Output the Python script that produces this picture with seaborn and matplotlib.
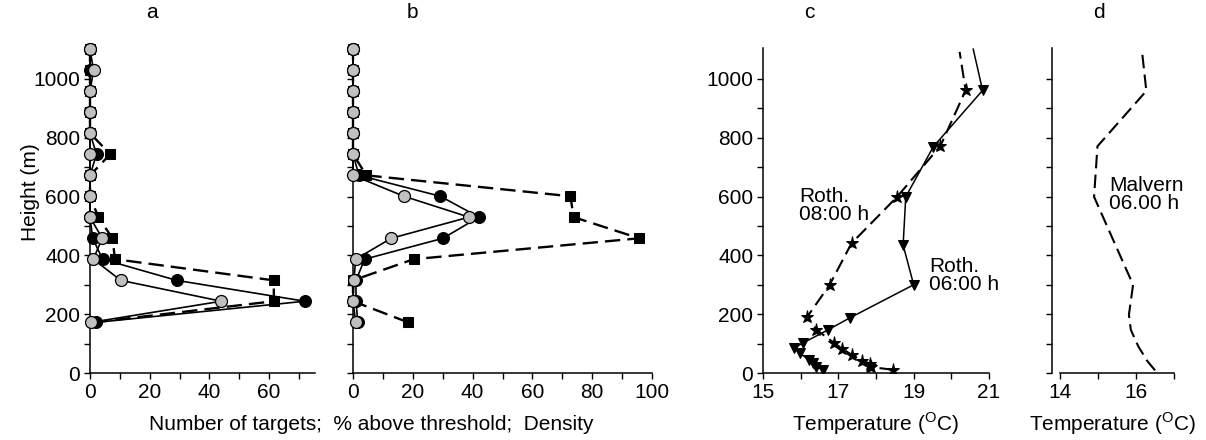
import matplotlib
matplotlib.use("Agg")
import matplotlib.pyplot as plt
import seaborn as sns
import numpy as np

# ---------------- data ----------------
heights = [172, 244, 315, 387, 458, 530, 601, 672, 744, 815, 886, 958, 1029, 1100]

a_black = [2.0, 72.0, 29.0, 4.2, 0.9, 0, 0, 0, 2.2, 0, 0, 0, 0, 0]
a_gray = [0.2, 44.0, 10.3, 1.1, 4.1, 0, 0, 0, 0, 0, 0, 0, 1.2, 0]
a_square = [1.0, 61.6, 61.6, 8.4, 7.5, 2.8, 0, 0, 6.8, 0, 0, 0, 0, 0]

b_black = [1.6, 1.0, 1.0, 3.9, 30.1, 42.1, 29.2, 2.0, 0, 0, 0, 0, 0, 0]
b_gray = [0.9, 0, 0.3, 0.9, 12.8, 38.8, 17.0, 0, 0, 0, 0, 0, 0, 0]
b_square = [18.5, 0, 0, 20.3, 95.7, 73.8, 72.7, 4.5, 0, 0, 0, 0, 0, 0]

c_star_T = [18.45, 17.88, 17.85, 17.83, 17.64, 17.35, 17.11, 16.89, 16.42, 16.18,
            16.77, 17.35, 18.56, 19.71, 20.38, 20.22]
c_star_h = [11, 20, 25, 32, 42, 62, 82, 102, 147, 192, 300, 441, 599, 772, 961, 1092]

c_tri_T = [16.58, 16.42, 16.32, 16.22, 15.97, 15.82, 16.06, 16.73, 17.30, 19.00,
           18.72, 18.79, 19.52, 20.83, 20.58]
c_tri_h = [11, 22, 35, 45, 68, 85, 102, 147, 187, 300, 435, 599, 769, 961, 1102]

d_T = [16.50, 16.30, 16.06, 15.86, 15.81, 15.92, 14.89, 14.98, 16.27, 16.16]
d_h = [9, 40, 90, 147, 198, 300, 599, 771, 959, 1088]

# ---------------- style ----------------
sns.set_theme(style="ticks")
plt.rcParams["font.family"] = ["Liberation Sans", "DejaVu Sans"]
plt.rcParams["mathtext.fontset"] = "custom"
plt.rcParams["mathtext.rm"] = "Liberation Sans"
plt.rcParams["xtick.direction"] = "out"
plt.rcParams["ytick.direction"] = "out"
plt.rcParams["text.color"] = "black"
FS = 15

W, H = 1206, 440
fig = plt.figure(figsize=(W / 100, H / 100), dpi=100)


def px_axes(left, right, top=48, bottom=373):
    return fig.add_axes([left / W, 1 - bottom / H, (right - left) / W, (bottom - top) / H])


ax_a = px_axes(90, 315)
ax_b = px_axes(353, 652)
ax_c = px_axes(763, 989)
ax_d = px_axes(1052, 1174)

DASH = (0, (6.5, 3))
GRAY = "#c0c0c0"


def prof(ax, x, y, **kw):
    sns.lineplot(x=x, y=y, ax=ax, sort=False, estimator=None, color="black", **kw)


for ax, sq, bl, gr in [(ax_a, a_square, a_black, a_gray), (ax_b, b_square, b_black, b_gray)]:
    prof(ax, sq, heights, linestyle=DASH, linewidth=1.7, marker="s", markersize=7,
         markerfacecolor="black", markeredgecolor="black", clip_on=False, zorder=2)
    prof(ax, bl, heights, linewidth=1.2, marker="o", markersize=8.6,
         markerfacecolor="black", markeredgecolor="black", clip_on=False, zorder=3)
    prof(ax, gr, heights, linewidth=1.2, marker="o", markersize=8.6,
         markerfacecolor=GRAY, markeredgecolor="black", markeredgewidth=0.9,
         clip_on=False, zorder=4)

prof(ax_c, c_star_T, c_star_h, linestyle=DASH, linewidth=1.5, marker="*", markersize=9.5,
     markerfacecolor="black", markeredgecolor="black",
     markevery=list(range(len(c_star_T) - 1)), clip_on=True)
prof(ax_c, c_tri_T, c_tri_h, linewidth=1.1, marker="v", markersize=7.5,
     markerfacecolor="black", markeredgecolor="black",
     markevery=list(range(len(c_tri_T) - 1)), clip_on=True)

prof(ax_d, d_T, d_h, linestyle=DASH, linewidth=1.5)

# ---------------- axes ----------------
yt = np.arange(0, 1001, 100)
for ax in [ax_a, ax_b, ax_c, ax_d]:
    ax.set_ylim(0, 1105)
    ax.set_yticks(yt)
    ax.set_xlabel("")
    ax.set_ylabel("")
    for s in ["top", "right"]:
        ax.spines[s].set_visible(False)
    for s in ["left", "bottom"]:
        ax.spines[s].set_linewidth(1.1)
        ax.spines[s].set_color("black")
    ax.tick_params(axis="both", length=4, width=1.0, color="black", labelsize=FS,
                   labelcolor="black", pad=3)
    ax.set_facecolor("none")

ylabels = [str(v) if v % 200 == 0 else "" for v in yt]
ax_a.set_yticklabels(ylabels)
ax_c.set_yticklabels(ylabels)
ax_b.set_yticklabels([])
ax_d.set_yticklabels([])

ax_a.set_xlim(0, 75.4)
xa = np.arange(0, 71, 10)
ax_a.set_xticks(xa)
ax_a.set_xticklabels([str(v) if v % 20 == 0 else "" for v in xa])

ax_b.set_xlim(0, 100)
xb = np.arange(0, 101, 10)
ax_b.set_xticks(xb)
ax_b.set_xticklabels([str(v) if v % 20 == 0 else "" for v in xb])

ax_c.set_xlim(15, 21)
xc = np.arange(15, 22, 1)
ax_c.set_xticks(xc)
ax_c.set_xticklabels([str(v) if v % 2 == 1 else "" for v in xc])

ax_d.set_xlim(13.78, 17)
xd = np.arange(14, 18, 1)
ax_d.set_xticks(xd)
ax_d.set_xticklabels([str(v) if v % 2 == 0 else "" for v in xd])
ax_d.spines["bottom"].set_bounds(14, 17)

# ---------------- annotations ----------------
ax_c.text(15.95, 632, "Roth.\n08:00 h", ha="left", va="top", fontsize=FS, linespacing=0.95)
ax_c.text(19.42, 396, "Roth.\n06:00 h", ha="left", va="top", fontsize=FS, linespacing=0.95)
ax_d.text(15.29, 671, "Malvern\n06.00 h", ha="left", va="top", fontsize=FS, linespacing=0.95)

for lbl, x in [("a", 152), ("b", 412), ("c", 809), ("d", 1099)]:
    fig.text(x / W, 1 - 13 / H, lbl, ha="center", va="center", fontsize=FS)

fig.text(30 / W, 1 - 192 / H, "Height (m)", rotation=90, ha="center", va="center", fontsize=FS)
fig.text(371 / W, 1 - 424 / H, "Number of targets;  % above threshold;  Density",
         ha="center", va="center", fontsize=FS)
fig.text(876 / W, 1 - 424 / H, r"Temperature ($^{\mathrm{O}}$C)", ha="center", va="center", fontsize=FS)
fig.text(1113 / W, 1 - 424 / H, r"Temperature ($^{\mathrm{O}}$C)", ha="center", va="center", fontsize=FS)

fig.savefig("out.png", dpi=100, facecolor="white")
